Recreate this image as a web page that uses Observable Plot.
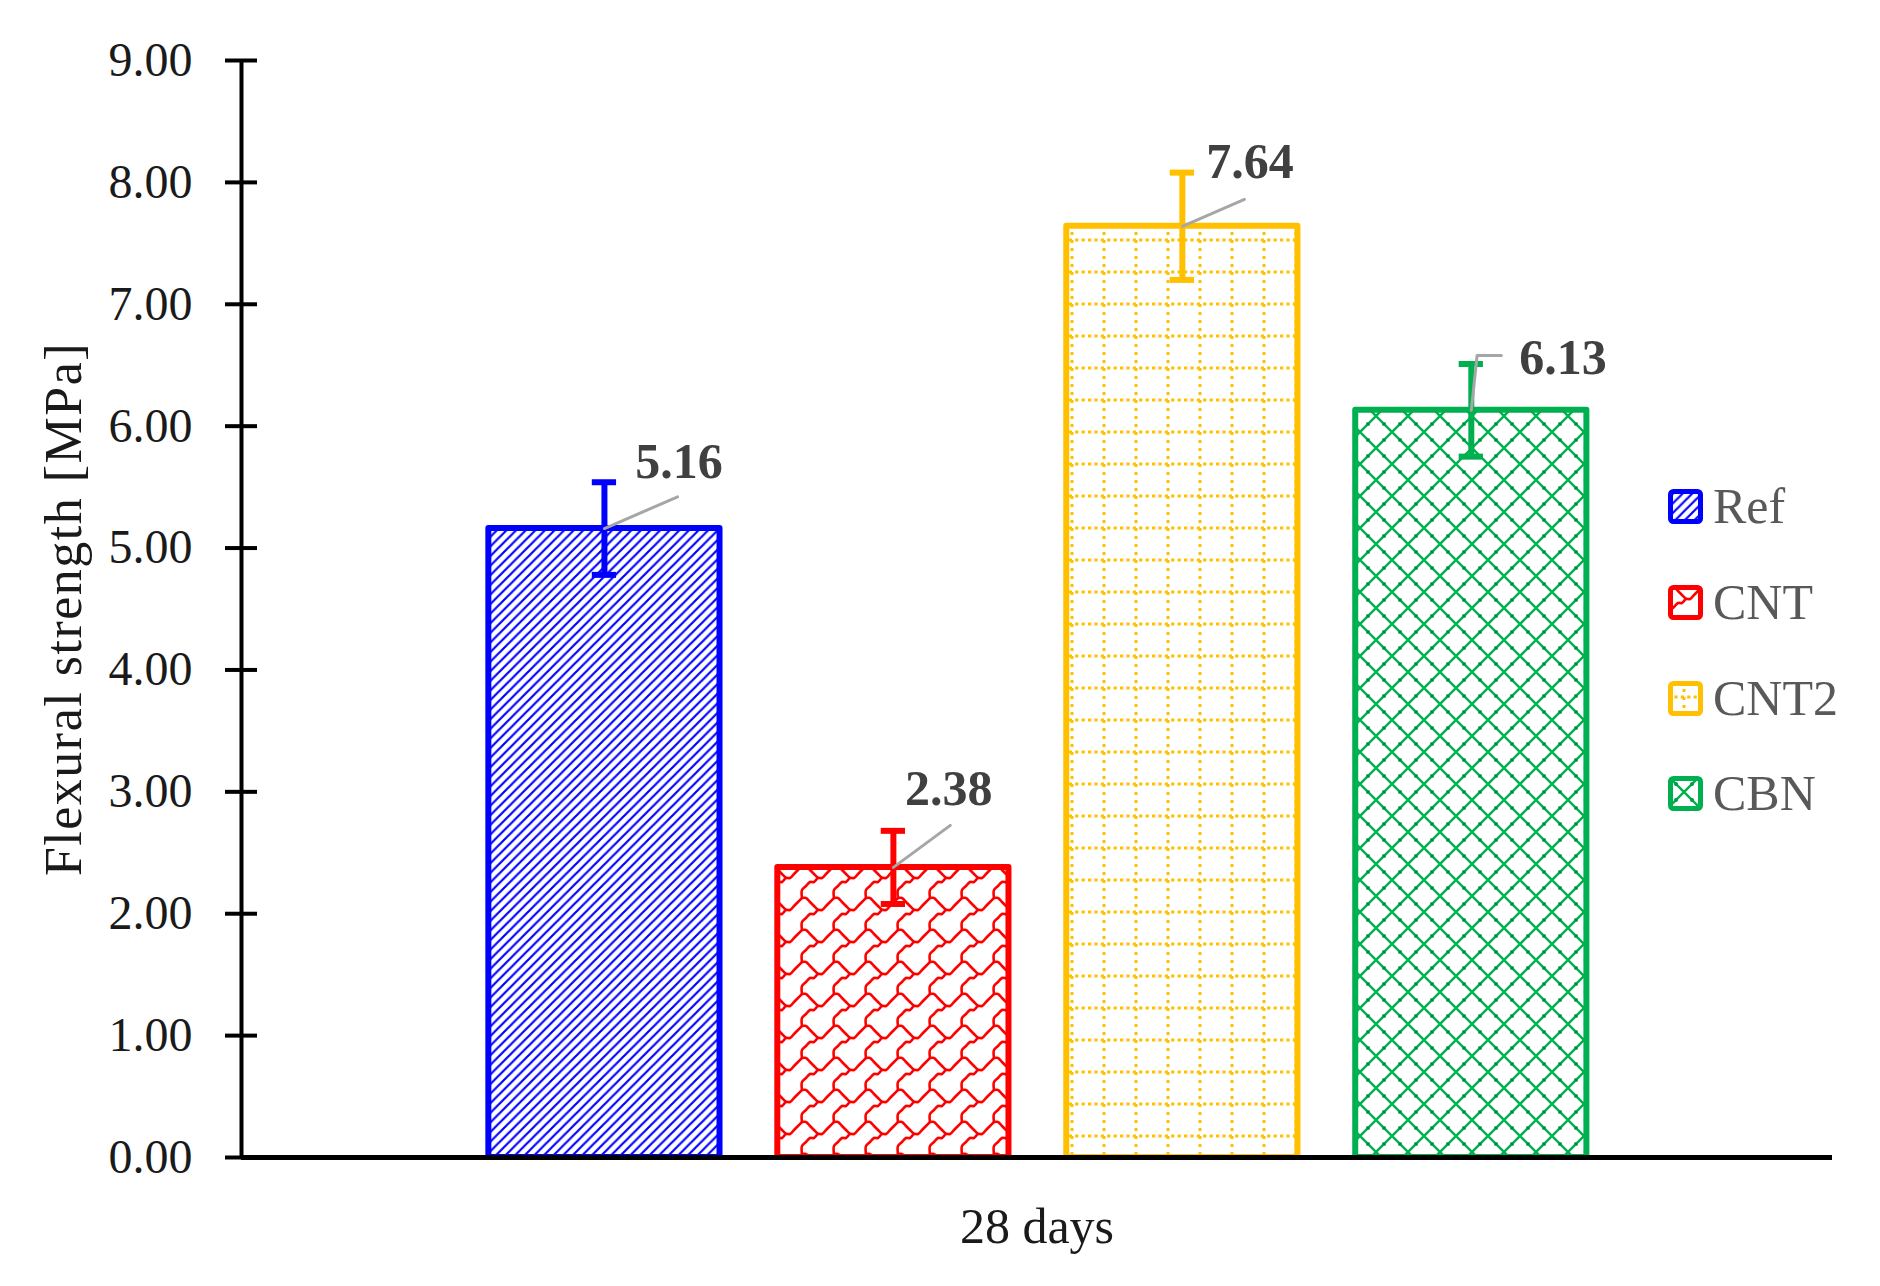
<!DOCTYPE html>
<html><head><meta charset="utf-8">
<script src="https://cdn.jsdelivr.net/npm/d3@7"></script>
<script src="https://cdn.jsdelivr.net/npm/@observablehq/plot@0.6"></script>
<style>
body{margin:0;background:#fff;}
#wrap{position:relative;width:1880px;height:1286px;overflow:hidden;font-family:"Liberation Serif",serif;background:#fff;}
#chart{position:absolute;left:0;top:0;}
.item{position:absolute;left:1668px;height:35px;display:flex;align-items:center;white-space:nowrap;}
.item span{font-size:50px;color:#595959;margin-left:10px;line-height:1;}
text[transform*="rotate(-90)"]{letter-spacing:1.5px;}
</style></head>
<body>
<svg width="0" height="0" style="position:absolute"><defs id="pdefs"></defs></svg>
<div id="wrap"><div id="chart"></div></div>
<script>
// ---- data ----
const series = ["Ref", "CNT", "CNT2", "CBN"];
const values = [5.16, 2.38, 7.64, 6.13];
const errors = [0.38, 0.30, 0.44, 0.38];
const categories = ["28 days"];
const yTicks = [0, 1, 2, 3, 4, 5, 6, 7, 8, 9];
const yLabel = "Flexural strength [MPa]";

// ---- styles ----
const colors = ["#0000FF", "#FF0000", "#FFC000", "#00B050"];
const patternIds = ["pRef", "pCNT", "pCNT2", "pCBN"];
// label nudges (in data units: x category steps, y MPa)
const labelOffsets = [[0.107, 0.55], [0.04, 0.64], [0.083, 0.525], [0.166, 0.427]];
const leaderOffsets = [
  [[0, 0], [0.253, 0.26]],
  [[0, 0], [0.197, 0.345]],
  [[0, 0], [0.215, 0.22]],
  [[0, 0], [0.02, 0.45], [0.104, 0.45]]
];
const halfBar = 0.4, capHalf = 0.042;

// ---- patterns ----
const defs = d3.select("#pdefs");
function pat(id, w, h) {
  const p = defs.append("pattern").attr("id", id).attr("patternUnits", "userSpaceOnUse")
    .attr("width", w).attr("height", h);
  p.append("rect").attr("width", w).attr("height", h).attr("fill", "#fff");
  return p;
}
{ // Ref: upward diagonal
  const s = 9.6, p = pat("pRef", s, s);
  p.append("path").attr("d", `M${-s/4},${s/4}L${s/4},${-s/4}M0,${s}L${s},0M${s*0.75},${s*1.25}L${s*1.25},${s*0.75}`)
    .attr("stroke", colors[0]).attr("stroke-width", 2.2).attr("fill", "none");
}
{ // CNT: shingle
  const s = 32, p = pat("pCNT", s, s);
  const A = [[2,34],[2,26],[6,22],[10,18],[14,18],[18,14],[22,14],[26,10],[30,6],[34,2]];
  const B = [[18,14],[14,10],[10,6],[6,2],[2,2]];
  const line = d3.line().curve(d3.curveCatmullRom);
  for (const ox of [-s, 0, s]) for (const oy of [-s, 0, s]) {
    for (const pts of [A, B]) {
      p.append("path").attr("d", line(pts.map(([x, y]) => [x + ox, y + oy])))
        .attr("stroke", colors[1]).attr("stroke-width", 2.6).attr("fill", "none");
    }
  }
}
{ // CNT2: dotted grid
  const s = 32, p = pat("pCNT2", s, s);
  p.append("line").attr("x1", 0).attr("x2", s).attr("y1", 16).attr("y2", 16)
    .attr("stroke", colors[2]).attr("stroke-width", 3).attr("stroke-dasharray", "3.2 3.2");
  p.append("line").attr("x1", 16).attr("x2", 16).attr("y1", 0).attr("y2", s)
    .attr("stroke", colors[2]).attr("stroke-width", 3).attr("stroke-dasharray", "3 5");
}
{ // CBN: trellis
  const s = 32, p = pat("pCBN", s, s);
  p.append("path").attr("d", `M0,0L${s},${s}M${s},0L0,${s}`)
    .attr("stroke", colors[3]).attr("stroke-width", 2.4).attr("fill", "none");
  for (const [x, y] of [[8,8],[24,8],[8,24],[24,24]])
    p.append("circle").attr("cx", x).attr("cy", y).attr("r", 2).attr("fill", "#009a45");
}

// ---- chart ----
const data = series.map((s, i) => ({s, i, v: values[i], e: errors[i]}));
const leaderData = data.flatMap(d => leaderOffsets[d.i].map(([dx, dy]) => ({i: d.i, x: d.i + dx, y: d.v + dy})));

const chart = Plot.plot({
  width: 1880, height: 1286,
  marginLeft: 241, marginRight: 48, marginTop: 60, marginBottom: 129,
  x: {type: "linear", domain: [-1.256, 4.25], axis: null},
  y: {domain: [0, 9], axis: null},
  color: {type: "identity"},
  style: {fontFamily: "'Liberation Serif', serif", fontSize: "48px", background: "white", color: "#1a1a1a"},
  marks: [
    Plot.rectY(data, {x1: d => d.i - halfBar, x2: d => d.i + halfBar, y1: 0, y2: "v",
      fill: d => `url(#${patternIds[d.i]})`, stroke: d => colors[d.i], strokeWidth: 6, strokeLinejoin: "round"}),
    Plot.ruleX(data, {x: "i", y1: d => d.v - d.e, y2: d => d.v + d.e, stroke: d => colors[d.i], strokeWidth: 6}),
    Plot.ruleY(data, {y: d => d.v + d.e, x1: d => d.i - capHalf, x2: d => d.i + capHalf, stroke: d => colors[d.i], strokeWidth: 6}),
    Plot.ruleY(data, {y: d => d.v - d.e, x1: d => d.i - capHalf, x2: d => d.i + capHalf, stroke: d => colors[d.i], strokeWidth: 6}),
    Plot.line(leaderData, {x: "x", y: "y", z: "i", stroke: "#A6A6A6", strokeWidth: 3}),
    Plot.text(data, {x: d => d.i + labelOffsets[d.i][0], y: d => d.v + labelOffsets[d.i][1],
      text: d => d.v.toFixed(2), textAnchor: "start", fontWeight: "bold", fontSize: 50, fill: "#404040"}),
    Plot.ruleX([-1.256], {y1: 0, y2: 9, stroke: "black", strokeWidth: 4}),
    Plot.ruleY([0], {stroke: "black", strokeWidth: 5}),
    Plot.axisY(yTicks, {tickFormat: d => d.toFixed(2), tickSize: 32, dx: 16, tickPadding: 33,
      stroke: "black", strokeWidth: 4, fill: "#1a1a1a", fontSize: 48, label: null}),
    Plot.text(categories, {frameAnchor: "bottom", text: d => d, dy: 85, fontSize: 50, fill: "#1a1a1a"}),
    Plot.text([yLabel], {frameAnchor: "left", text: d => d, dx: -177, rotate: -90, textAnchor: "middle",
      fontSize: 52, fill: "#1a1a1a"})
  ]
});
document.getElementById("chart").appendChild(chart);

// ---- legend ----
const legendCenters = [506, 602, 698, 793];
const wrap = d3.select("#wrap");
series.forEach((s, i) => {
  const item = wrap.append("div").attr("class", "item").style("top", (legendCenters[i] - 17.5) + "px");
  const sw = item.append("svg").attr("width", 35).attr("height", 35);
  sw.append("rect").attr("x", 2.5).attr("y", 2.5).attr("width", 30).attr("height", 30).attr("rx", 3)
    .attr("fill", `url(#${patternIds[i]})`).attr("stroke", colors[i]).attr("stroke-width", 5);
  item.append("span").text(s);
});
</script>
</body></html>
